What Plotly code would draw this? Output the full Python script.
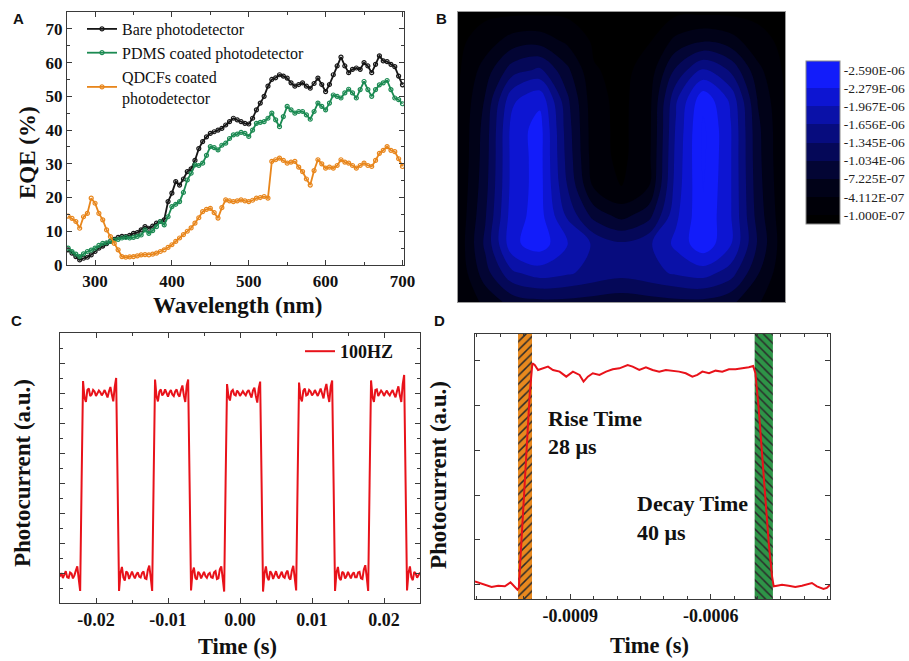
import numpy as np
import plotly.graph_objects as go

SERIF = "Liberation Serif"
SANS = "Liberation Sans"
W, H = 909, 661

# ---------------- Panel A : EQE spectra ----------------
wavelength = [265, 270, 275, 280, 285, 290, 295, 300, 305, 310, 315, 320, 325, 330, 335, 340,
              345, 350, 355, 360, 365, 370, 375, 380, 385, 390, 395, 400, 405, 410, 415, 420,
              425, 430, 435, 440, 445, 450, 455, 460, 465, 470, 475, 480, 485, 490, 495, 500,
              505, 510, 515, 520, 525, 530, 535, 540, 545, 550, 555, 560, 565, 570, 575, 580,
              585, 590, 595, 600, 605, 610, 615, 620, 625, 630, 635, 640, 645, 650, 655, 660,
              665, 670, 675, 680, 685, 690, 695, 700]
eqe_bare = [4.5, 3.5, 2.5, 1.5, 2.0, 2.3, 3.0, 4.0, 5.0, 5.6, 6.3, 7.0, 7.6, 8.2, 8.5, 8.4,
            8.8, 9.4, 9.6, 10.4, 11.4, 10.9, 11.5, 12.4, 12.9, 13.4, 18.8, 21.3, 24.7, 23.7, 25.5, 27.7,
            28.5, 31.0, 34.5, 36.6, 38.0, 39.0, 39.5, 40.0, 40.5, 41.5, 42.5, 43.5, 43.0, 42.5, 42.0, 41.8,
            43.5, 46.0, 48.0, 50.0, 53.0, 55.0, 55.5, 56.4, 56.0, 55.4, 54.0, 53.0, 53.5, 54.0, 53.0, 52.4,
            53.8, 55.4, 53.5, 51.4, 53.5, 56.4, 59.0, 61.6, 59.0, 57.0, 58.0, 58.4, 58.0, 60.0, 59.0, 57.0,
            59.5, 62.0, 60.5, 60.3, 59.5, 58.8, 56.0, 53.4]
eqe_pdms = [5.0, 4.0, 3.2, 2.5, 3.3, 4.0, 4.4, 5.0, 5.8, 6.4, 6.6, 7.0, 7.4, 7.6, 8.0, 8.2,
            8.0, 8.2, 8.5, 8.9, 10.4, 9.4, 10.2, 11.4, 12.9, 11.9, 14.3, 17.3, 18.0, 18.8, 21.5, 25.2,
            27.2, 29.7, 29.5, 30.2, 32.5, 35.1, 34.8, 34.1, 35.5, 36.1, 37.5, 38.6, 38.8, 39.3, 39.0, 38.1,
            40.0, 42.0, 42.3, 42.5, 43.5, 45.0, 43.0, 41.0, 44.0, 47.0, 46.0, 45.0, 45.5, 45.5, 44.5, 43.2,
            45.5, 48.0, 47.0, 46.0, 48.0, 50.4, 50.0, 49.5, 51.0, 52.1, 51.0, 49.5, 52.0, 54.4, 52.0, 50.0,
            52.0, 53.4, 54.0, 54.7, 52.0, 49.5, 49.0, 47.8]
eqe_qdcf = [14.5, 13.8, 12.9, 10.9, 14.3, 15.3, 19.8, 18.3, 15.3, 13.4, 10.4, 8.4, 6.4, 4.5, 2.5, 2.3,
            2.4, 2.5, 2.7, 3.0, 3.1, 3.0, 3.2, 3.5, 4.0, 4.5, 5.2, 6.0, 7.0, 8.0, 9.0, 10.0,
            11.0, 12.4, 14.0, 15.8, 16.5, 16.8, 15.5, 13.9, 17.0, 19.3, 19.0, 18.8, 19.0, 19.3, 19.0, 18.8,
            19.2, 19.8, 20.0, 20.3, 19.8, 30.7, 31.2, 31.7, 31.0, 30.2, 30.5, 30.7, 29.0, 27.7, 25.5, 23.7,
            28.0, 31.2, 30.0, 28.7, 29.0, 28.7, 29.5, 31.2, 30.5, 30.2, 29.5, 28.7, 29.5, 30.2, 29.5, 29.2,
            31.0, 33.1, 34.0, 35.1, 34.0, 33.6, 31.5, 29.2]
series_names = ["Bare photodetector", "PDMS coated photodetector", "QDCFs coated<br>photodetector"]
series_colors = ["#161616", "#1b8a52", "#e8861c"]

# ---------------- Panel B : simulated field map (values x 1e-6) ----------------
map_cols = [0, 1, 2, 3, 4, 5, 6, 7, 8, 9, 10, 11, 12]
map_rows = [0, 1, 2, 3, 4, 5, 6, 7, 8, 9, 10]
field_1e6 = [
    [-0.03, -0.03, -0.03, -0.03, -0.03, -0.03, -0.02, -0.03, -0.03, -0.03, -0.03, -0.03, -0.03],
    [-0.03, -0.25, -0.55, -0.60, -0.35, -0.05, -0.02, -0.08, -0.50, -0.70, -0.55, -0.20, -0.03],
    [-0.05, -0.55, -1.20, -1.40, -0.80, -0.12, -0.03, -0.20, -1.10, -1.70, -1.30, -0.50, -0.05],
    [-0.08, -0.75, -1.90, -2.20, -1.10, -0.18, -0.03, -0.28, -1.60, -2.50, -1.90, -0.70, -0.08],
    [-0.10, -0.85, -2.10, -2.40, -1.20, -0.20, -0.03, -0.30, -1.70, -2.65, -2.00, -0.80, -0.10],
    [-0.10, -0.88, -2.10, -2.40, -1.25, -0.22, -0.03, -0.32, -1.75, -2.65, -2.00, -0.82, -0.10],
    [-0.12, -0.92, -2.10, -2.40, -1.35, -0.35, -0.10, -0.40, -1.80, -2.60, -2.00, -0.85, -0.12],
    [-0.15, -1.00, -2.15, -2.40, -1.60, -0.90, -0.60, -0.90, -1.90, -2.55, -2.00, -0.90, -0.15],
    [-0.18, -1.10, -2.20, -2.45, -2.00, -1.60, -1.40, -1.60, -2.05, -2.50, -2.00, -1.00, -0.18],
    [-0.15, -0.90, -1.60, -1.80, -1.70, -1.55, -1.45, -1.55, -1.70, -1.80, -1.50, -0.75, -0.15],
    [-0.10, -0.50, -0.85, -0.95, -0.95, -0.90, -0.85, -0.90, -0.95, -0.95, -0.80, -0.45, -0.10],
]
cbar_levels_1e6 = [-0.1, -0.41125, -0.7225, -1.03375, -1.345, -1.65625, -1.9675, -2.27875, -2.59]
cbar_labels = ["-1.000E-07", "-4.112E-07", "-7.225E-07", "-1.034E-06", "-1.345E-06",
               "-1.656E-06", "-1.967E-06", "-2.279E-06", "-2.590E-06"]
band_colors = ["rgb(0,0,0)", "rgb(0,0,8)", "rgb(1,2,24)", "rgb(3,5,52)", "rgb(5,8,88)",
               "rgb(7,12,126)", "rgb(10,17,168)", "rgb(13,21,210)", "rgb(18,28,250)",
               "rgb(18,28,250)"]

# ---------------- Panel C : 100 Hz photoresponse ----------------
c_time = np.round(np.linspace(-0.025, 0.025, 251), 6)
c_signal = [
    0.88, 1.00, 0.83, 0.95, 1.06, 0.86, 0.84, 1.02, 0.98, 0.82, 0.92, 1.08, 1.22, 0.80, 0.40,
    4.0, 7.40, 6.85, 6.70, 7.10, 7.15, 6.90, 6.95, 7.10, 7.05, 6.90, 6.98, 7.08, 7.02, 6.92, 7.00,
    7.10, 6.98, 6.85, 7.05, 7.20, 6.95, 6.72, 7.20, 7.50, 4.0,
    0.40, 1.00, 1.20, 0.85, 0.75, 1.05, 1.00, 0.80, 0.90, 1.05, 0.92, 0.82, 0.95, 1.02, 0.88, 0.85,
    1.00, 1.05, 0.82, 0.80, 1.10, 1.25, 0.85, 0.40,
    4.0, 7.45, 6.90, 6.72, 7.05, 7.12, 6.92, 6.98, 7.12, 7.00, 6.88, 7.02, 7.10, 6.95, 6.90, 7.05,
    7.12, 6.95, 6.88, 7.10, 7.25, 6.92, 6.70, 7.25, 7.45, 4.0,
    0.42, 1.02, 1.18, 0.84, 0.78, 1.04, 0.98, 0.82, 0.92, 1.04, 0.90, 0.84, 0.96, 1.00, 0.86, 0.84,
    1.02, 1.06, 0.80, 0.82, 1.12, 1.22, 0.82, 0.38,
    4.0, 7.30, 6.88, 6.75, 7.05, 7.10, 6.95, 6.92, 7.08, 7.02, 6.90, 7.00, 7.06, 6.98, 6.92, 7.04,
    7.10, 6.96, 6.85, 7.08, 7.18, 6.90, 6.68, 7.15, 7.38, 4.0,
    0.38, 0.98, 1.22, 0.86, 0.76, 1.06, 0.98, 0.80, 0.92, 1.06, 0.90, 0.82, 0.94, 1.04, 0.88, 0.84,
    1.00, 1.08, 0.84, 0.78, 1.08, 1.24, 0.84, 0.42,
    4.0, 7.35, 6.85, 6.72, 7.08, 7.15, 6.92, 6.95, 7.10, 7.05, 6.92, 6.98, 7.10, 7.00, 6.90, 7.02,
    7.15, 6.98, 6.82, 7.12, 7.30, 6.95, 6.70, 7.22, 7.42, 4.0,
    0.40, 1.02, 1.20, 0.84, 0.76, 1.04, 1.00, 0.82, 0.90, 1.04, 0.92, 0.82, 0.96, 1.02, 0.86, 0.86,
    1.02, 1.04, 0.82, 0.80, 1.12, 1.26, 0.86, 0.40,
    4.0, 7.42, 6.88, 6.70, 7.10, 7.12, 6.90, 6.98, 7.08, 7.02, 6.90, 7.00, 7.08, 6.98, 6.92, 7.02,
    7.10, 6.96, 6.86, 7.06, 7.22, 6.92, 6.70, 7.30, 7.60, 4.0,
    0.42, 1.00, 1.22, 0.86, 0.76, 1.04, 0.98, 0.84, 0.92, 1.02,
]
c_ticks = [-0.02, -0.01, 0.0, 0.01, 0.02]
c_ticklabels = ["-0.02", "-0.01", "0.00", "0.01", "0.02"]

# ---------------- Panel D : single pulse, rise/decay ----------------
d_time = [-0.0011035, -0.0010929, -0.0010787, -0.0010681, -0.0010539, -0.0010397, -0.0010277,
          -0.0010184, -0.0010128, -0.0010099, -0.0010078, -0.0009972, -0.0009865, -0.0009809,
          -0.0009759, -0.0009688, -0.0009582, -0.0009475, -0.0009369, -0.0009227, -0.0009085,
          -0.0008943, -0.0008801, -0.0008716, -0.0008624, -0.0008518, -0.0008376, -0.0008234,
          -0.0008092, -0.000795, -0.0007773, -0.0007667, -0.0007525, -0.0007383, -0.0007241,
          -0.0007099, -0.0006957, -0.0006816, -0.0006674, -0.0006532, -0.000639, -0.0006284,
          -0.0006177, -0.0006035, -0.0005894, -0.0005752, -0.000561, -0.0005468, -0.0005326,
          -0.0005184, -0.0005092, -0.0005043, -0.0004972, -0.0004865, -0.0004759, -0.0004688,
          -0.0004653, -0.0004582, -0.0004475, -0.0004333, -0.0004191, -0.000405, -0.0003908,
          -0.0003837, -0.000373, -0.0003589, -0.0003518, -0.0003447]
d_signal = [0.074, 0.037, -0.022, -0.052, -0.022, -0.037, 0.052,
            -0.037, -0.112, -0.074, 0.335, 2.418, 4.278, 4.948,
            4.911, 4.799, 4.836, 4.874, 4.799, 4.762, 4.650,
            4.762, 4.688, 4.539, 4.650, 4.725, 4.688, 4.762,
            4.814, 4.836, 4.911, 4.874, 4.799, 4.859, 4.799,
            4.762, 4.799, 4.784, 4.762, 4.725, 4.650, 4.688,
            4.762, 4.725, 4.784, 4.762, 4.814, 4.814, 4.829,
            4.859, 4.888, 4.725, 3.906, 2.418, 0.930, 0.186,
            -0.037, -0.022, 0.000, -0.022, -0.052, -0.022, 0.022,
            0.037, -0.037, -0.097, -0.074, 0.000]
rise_band = [-0.0010115, -0.0009817]
decay_band = [-0.000506, -0.000467]
d_yrange = [-0.32, 5.603]
d_xrange = [-0.0011035, -0.000345]
d_ticks = [-0.0009, -0.0006]
d_ticklabels = ["-0.0009", "-0.0006"]


def px(x):
    return x / W


def py(y):
    return 1 - y / H


fig = go.Figure()

# Panel A traces
for vals, name, col in zip([eqe_bare, eqe_pdms, eqe_qdcf], series_names, series_colors):
    fig.add_trace(go.Scatter(
        x=wavelength, y=vals, name=name, mode="lines+markers",
        line=dict(color=col, width=1.8),
        marker=dict(symbol="circle-open", size=4, color=col, line=dict(width=1.2, color=col)),
        xaxis="x", yaxis="y", legend="legend"))

# Panel B contour
mag = -np.array(field_1e6)
cs = [[i / 9, c] for i, c in enumerate(band_colors)]
fig.add_trace(go.Contour(
    z=mag, x=map_cols, y=map_rows, xaxis="x2", yaxis="y2",
    autocontour=False,
    contours=dict(start=-cbar_levels_1e6[0], end=-cbar_levels_1e6[-1],
                  size=(cbar_levels_1e6[0] - cbar_levels_1e6[-1]) / 8,
                  coloring="fill", showlines=False),
    line=dict(width=0, smoothing=1.0),
    colorscale=cs, showlegend=False,
    colorbar=dict(x=px(806), xanchor="left", y=py(142.5), yanchor="middle",
                  thickness=34, thicknessmode="pixels", len=163 / H, lenmode="fraction",
                  tickmode="array", tickvals=[-v for v in cbar_levels_1e6], ticktext=cbar_labels,
                  ticks="", tickfont=dict(family=SERIF, size=13.5, color="#222"),
                  outlinecolor="#8a8a8a", outlinewidth=1, xpad=0, ypad=0)))

# Panel C
fig.add_trace(go.Scatter(x=c_time, y=c_signal, name="100HZ", mode="lines",
                         line=dict(color="#e8121a", width=2), xaxis="x3", yaxis="y3",
                         legend="legend2"))

# Panel D bands + signal
for band, bg, shp in [(rise_band, "#e8891e", "/"), (decay_band, "#2e9447", "\\")]:
    fig.add_trace(go.Scatter(
        x=[band[0], band[1], band[1], band[0], band[0]],
        y=[d_yrange[0], d_yrange[0], d_yrange[1], d_yrange[1], d_yrange[0]],
        fill="toself", mode="lines", line=dict(width=0), fillcolor=bg,
        fillpattern=dict(shape=shp, bgcolor=bg, fgcolor="#2a2a2a", size=6,
                         solidity=0.25, fillmode="replace"),
        showlegend=False, xaxis="x4", yaxis="y4", hoverinfo="skip"))
fig.add_trace(go.Scatter(x=d_time, y=d_signal, mode="lines", showlegend=False,
                         line=dict(color="#e8121a", width=2), xaxis="x4", yaxis="y4"))

axline = dict(showline=True, linecolor="#3a3a3a", linewidth=1.2, mirror="ticks",
              ticks="inside", ticklen=5, tickwidth=1.1, tickcolor="#3a3a3a",
              showgrid=False, zeroline=False)
tf17 = dict(family=SERIF, size=17, color="#111", weight="bold")
tf18 = dict(family=SERIF, size=18, color="#111", weight="bold")


def minor(d):
    return dict(ticks="inside", ticklen=3, dtick=d, tickcolor="#3a3a3a", showgrid=False)


fig.update_layout(
    autosize=True, margin=dict(l=0, r=0, t=0, b=0, autoexpand=False),
    paper_bgcolor="white", plot_bgcolor="white",
    xaxis=dict(domain=[px(67), px(404)], anchor="y", range=[263.5, 702], dtick=100,
               tickfont=tf17, minor=minor(50), **axline),
    yaxis=dict(domain=[py(265), py(12)], anchor="x", range=[0, 75], dtick=10,
               tickfont=tf17, minor=minor(5), **axline),
    xaxis2=dict(domain=[px(458), px(785)], anchor="y2", range=[0, 12], showticklabels=False,
                showline=True, linecolor="#9a9a9a", mirror=True, ticks="", showgrid=False,
                zeroline=False),
    yaxis2=dict(domain=[py(302), py(12)], anchor="x2", range=[10, 0], showticklabels=False,
                showline=True, linecolor="#9a9a9a", mirror=True, ticks="", showgrid=False,
                zeroline=False),
    xaxis3=dict(domain=[px(60), px(420)], anchor="y3", range=[-0.025, 0.025],
                tickmode="array", tickvals=c_ticks, ticktext=c_ticklabels,
                tickfont=tf18, minor=minor(0.005), **axline),
    yaxis3=dict(domain=[py(603), py(333)], anchor="x3", range=[0, 9], dtick=1,
                showticklabels=False, minor=minor(0.5), **axline),
    xaxis4=dict(domain=[px(475), px(830)], anchor="y4", range=d_xrange,
                tickmode="array", tickvals=d_ticks, ticktext=d_ticklabels,
                tickfont=tf18, minor=minor(0.00005), **axline),
    yaxis4=dict(domain=[py(599), py(334)], anchor="x4", range=d_yrange, dtick=1,
                showticklabels=False, **axline),
    legend=dict(x=px(82), y=py(12), xanchor="left", yanchor="top",
                font=dict(family=SERIF, size=16, color="#111"), bgcolor="rgba(0,0,0,0)",
                tracegroupgap=0, itemwidth=30),
    legend2=dict(x=px(300), y=py(333), xanchor="left", yanchor="top",
                 font=dict(family=SERIF, size=18, color="#111", weight="bold"),
                 bgcolor="rgba(0,0,0,0)", itemwidth=30),
    showlegend=True,
)

ann = []


def add_text(text, x, y, size, family=SERIF, angle=0, xanchor="center", bold=True):
    ann.append(dict(text=text, x=px(x), y=py(y), xref="paper", yref="paper",
                    showarrow=False, textangle=angle, xanchor=xanchor, yanchor="middle",
                    font=dict(family=family, size=size, color="#111",
                              weight="bold" if bold else "normal")))


add_text("A", 18, 18, 15, SANS)
add_text("B", 441, 18, 15, SANS)
add_text("C", 16, 320, 15, SANS)
add_text("D", 439, 320, 15, SANS)
add_text("EQE (%)", 27, 153, 23, angle=-90)
add_text("Wavelength (nm)", 237, 305, 23)
add_text("Photocurrent (a.u.)", 22, 473, 23, angle=-90)
add_text("Time (s)", 237, 646, 22.5)
add_text("Photocurrent (a.u.)", 438, 475, 23, angle=-90)
add_text("Time (s)", 649, 645, 22.5)
add_text("Rise Time", 546, 418, 22, xanchor="left")
add_text("28 μs", 546, 447, 22, xanchor="left")
add_text("Decay Time", 635, 503, 22, xanchor="left")
add_text("40 μs", 635, 532, 22, xanchor="left")
fig.update_layout(annotations=ann)

fig.write_html(
    "out.html",
    config={"displayModeBar": False, "responsive": True},
    default_width="100vw",
    default_height="100vh",
    post_script=("document.documentElement.style.overflow='hidden';"
                 "document.body.style.overflow='hidden';"
                 "document.body.style.margin='0px';document.body.style.padding='0px';"
                 "Plotly.Plots.resize(document.getElementById('{plot_id}'));"),
)
